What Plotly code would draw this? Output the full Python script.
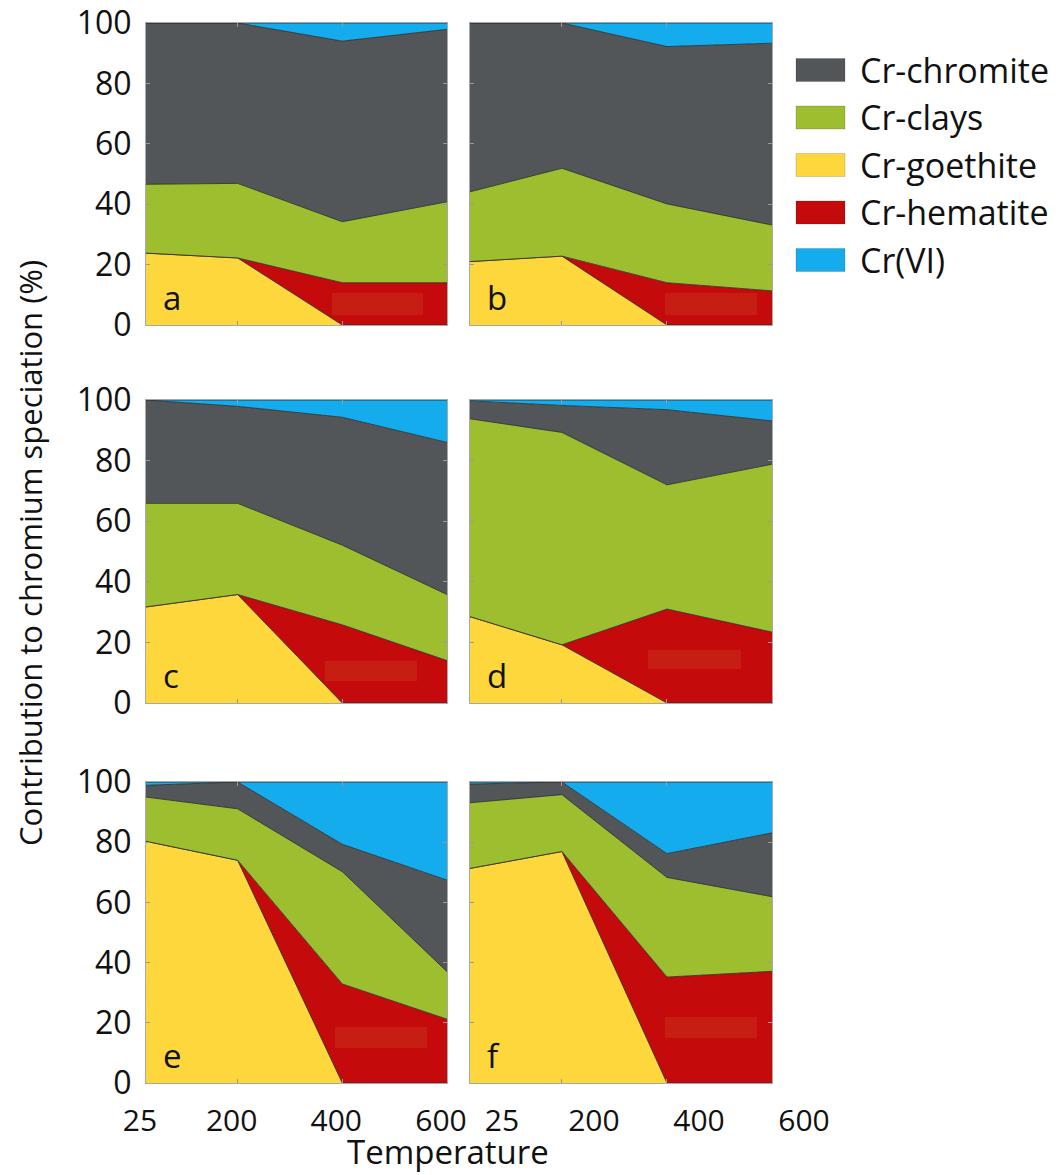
import plotly.graph_objects as go

# ---------------- data ----------------
temperatures = [25, 200, 400, 600]
x_tick_labels = ["25", "200", "400", "600"]
y_ticks = [0, 20, 40, 60, 80, 100]
panel_labels = ["a", "b", "c", "d", "e", "f"]

# values per panel (a..f), at 25, 200, 400, 600 °C  (% contribution)
goethite = [
    [23.8, 22.2, 0.0, 0.0],
    [21.0, 22.8, 0.0, 0.0],
    [31.7, 35.8, 0.0, 0.0],
    [28.5, 19.2, 0.0, 0.0],
    [80.3, 74.0, 0.0, 0.0],
    [71.3, 76.9, 0.0, 0.0],
]
hematite = [
    [0.0, 0.0, 14.0, 14.0],
    [0.0, 0.0, 14.0, 11.3],
    [0.0, 0.0, 25.8, 14.0],
    [0.0, 0.0, 31.0, 23.4],
    [0.0, 0.0, 32.9, 21.2],
    [0.0, 0.0, 35.2, 37.1],
]
clays = [
    [22.8, 24.7, 20.2, 26.8],
    [23.1, 29.1, 26.1, 21.8],
    [34.2, 30.1, 26.3, 21.8],
    [65.3, 70.1, 41.0, 55.4],
    [14.7, 17.1, 37.3, 15.8],
    [21.8, 18.9, 33.1, 24.8],
]
chromite = [
    [53.4, 53.1, 59.8, 57.1],
    [55.9, 48.1, 52.1, 60.2],
    [34.1, 32.0, 42.2, 50.2],
    [5.9, 8.9, 24.8, 14.3],
    [3.9, 8.9, 9.1, 30.4],
    [6.2, 4.2, 7.9, 21.2],
]
cr_vi = [
    [0.0, 0.0, 6.0, 2.1],
    [0.0, 0.0, 7.8, 6.7],
    [0.0, 2.1, 5.7, 14.0],
    [0.3, 1.8, 3.2, 6.9],
    [1.1, 0.0, 20.7, 32.6],
    [0.7, 0.0, 23.8, 16.9],
]

# stacking order, bottom to top
series_names = ["Cr-goethite", "Cr-hematite", "Cr-clays", "Cr-chromite", "Cr(VI)"]
series_values = [goethite, hematite, clays, chromite, cr_vi]
series_colors = ["#FDD73C", "#C40A0B", "#9CBE2F", "#535659", "#14ACEC"]
# legend order, top to bottom
legend_order = ["Cr-chromite", "Cr-clays", "Cr-goethite", "Cr-hematite", "Cr(VI)"]

# ---------------- layout geometry ----------------
W, H = 1061, 1175


def px(x):
    return x / W


def py(y):
    return 1 - y / H


col_px = [(146, 447), (470, 772)]
row_px = [(23, 325), (400, 703), (782, 1083)]
FONT = "Open Sans"

fig = go.Figure()
layout = dict(
    template="none",
    width=W, height=H,
    margin=dict(l=0, r=0, t=0, b=0, pad=0),
    paper_bgcolor="white", plot_bgcolor="white",
    showlegend=False,
    font=dict(family=FONT, color="#111111"),
)
annotations = []
shapes = []

for p in range(6):
    r, c = divmod(p, 2)
    idx = p + 1
    xa = "x" if idx == 1 else f"x{idx}"
    ya = "y" if idx == 1 else f"y{idx}"
    for name, vals, col in zip(series_names, series_values, series_colors):
        fig.add_trace(go.Scatter(
            x=temperatures, y=vals[p], name=name,
            mode="lines", stackgroup=f"s{idx}",
            line=dict(color="rgba(45,45,45,0.85)", width=1),
            fillcolor=col, xaxis=xa, yaxis=ya, hoverinfo="x+y+name",
        ))
    x0, x1 = col_px[c]
    y0, y1 = row_px[r]
    xd = [px(x0), px(x1)]
    yd = [py(y1), py(y0)]
    bottom = r == 2
    left = c == 0
    layout["xaxis" if idx == 1 else f"xaxis{idx}"] = dict(
        domain=xd, range=[temperatures[0], temperatures[-1]], anchor=ya,
        automargin=False,
        showgrid=False, zeroline=False,
        showline=True, linecolor="#a8a8a8", linewidth=1, mirror="ticks",
        ticks="inside", ticklen=4, tickcolor="#999999",
        tickvals=temperatures, ticktext=x_tick_labels,
        showticklabels=bottom, tickfont=dict(size=30, family=FONT, color="#111111"),
        ticklabelstandoff=11, ticklabelshift=(-6 if c == 0 else 32),
        ticklabeloverflow="allow",
    )
    layout["yaxis" if idx == 1 else f"yaxis{idx}"] = dict(
        domain=yd, range=[0, 100], anchor=xa,
        automargin=False,
        showgrid=False, zeroline=False,
        showline=True, linecolor="#a8a8a8", linewidth=1, mirror="ticks",
        ticks="inside", ticklen=4, tickcolor="#999999",
        tickvals=y_ticks, showticklabels=left,
        tickfont=dict(size=32, family=FONT, color="#111111"),
        ticklabelstandoff=7, ticklabeloverflow="allow",
    )
    # panel letter
    annotations.append(dict(
        text=panel_labels[p], xref=f"{xa} domain", yref=f"{ya} domain",
        x=0.05, y=0.09, xanchor="left", yanchor="middle", showarrow=False,
        font=dict(size=33, family=FONT, color="#111111"),
    ))

# faint rectangles inside the hematite areas (as in the original)
rects_px = [(332, 293, 423, 315), (665, 293, 757, 315), (325, 661, 417, 681),
            (648, 650, 741, 669), (335, 1027, 427, 1048), (665, 1017, 757, 1038)]
for (a, b, cc, d) in rects_px:
    shapes.append(dict(type="rect", xref="paper", yref="paper",
                       x0=px(a), x1=px(cc), y0=py(d), y1=py(b),
                       fillcolor="#C61E12", line=dict(width=0), layer="above"))

# custom legend
color_of = dict(zip(series_names, series_colors))
for i, name in enumerate(legend_order):
    yc = 70 + i * 47.5
    shapes.append(dict(type="rect", xref="paper", yref="paper",
                       x0=px(796), x1=px(845), y0=py(yc + 11.5), y1=py(yc - 11.5),
                       fillcolor=color_of[name], line=dict(color="rgba(0,0,0,0.15)", width=1)))
    annotations.append(dict(text=name, xref="paper", yref="paper",
                            x=px(858), y=py(yc), xanchor="left", yanchor="middle",
                            showarrow=False, font=dict(size=34, family=FONT, color="#111111")))

# axis titles
annotations.append(dict(text="Contribution to chromium speciation (%)", xref="paper", yref="paper",
                        x=px(30), y=py(553), textangle=-90, showarrow=False,
                        xanchor="center", yanchor="middle",
                        font=dict(size=31, family=FONT, color="#111111")))
annotations.append(dict(text="Temperature", xref="paper", yref="paper",
                        x=px(448), y=py(1151), showarrow=False,
                        xanchor="center", yanchor="middle",
                        font=dict(size=33, family=FONT, color="#111111")))

layout["annotations"] = annotations
layout["shapes"] = shapes
fig.update_layout(**layout)
fig.write_html(
    "out.html",
    config={"displayModeBar": False},
    post_script="document.body.style.margin='0px';document.body.style.overflow='hidden';",
)
